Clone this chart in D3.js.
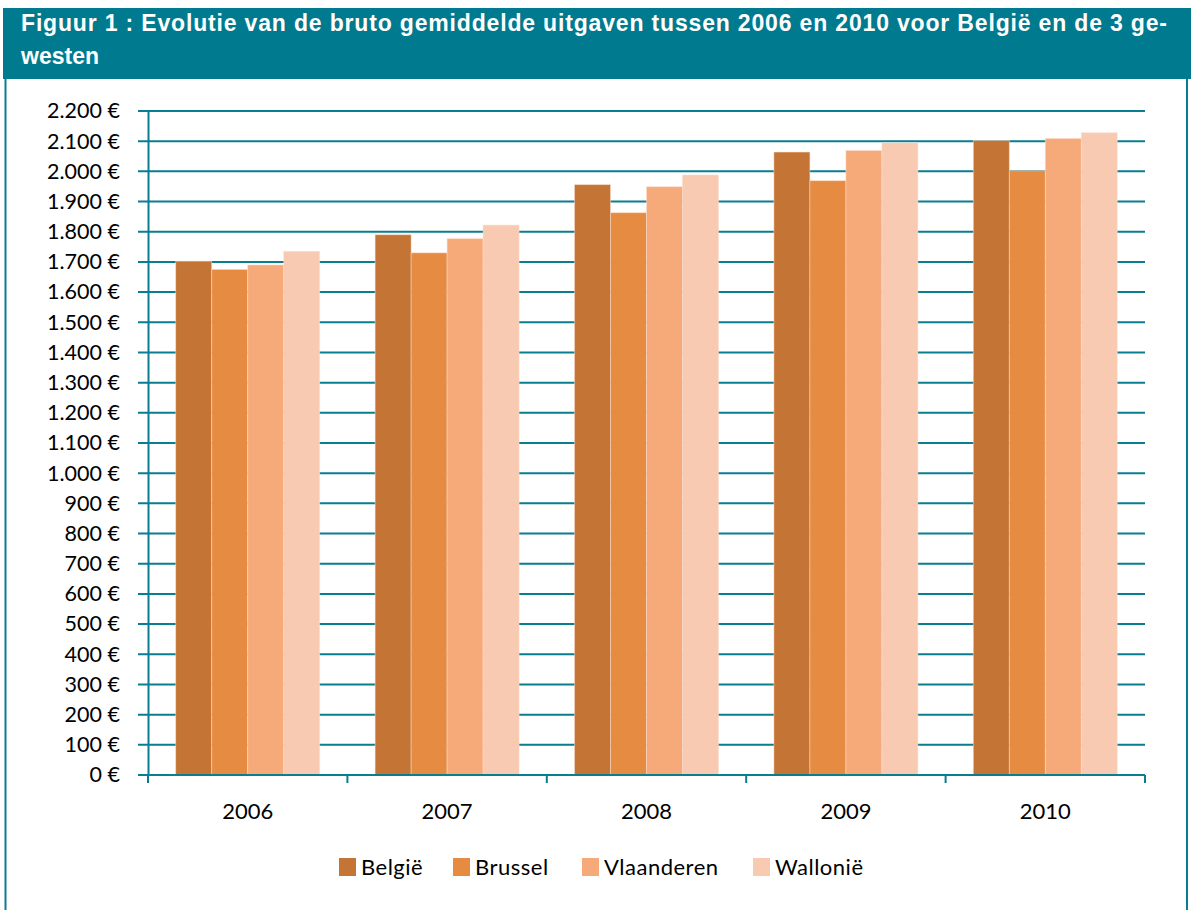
<!DOCTYPE html>
<html>
<head>
<meta charset="utf-8">
<script src="https://cdn.jsdelivr.net/npm/d3@7"></script>
<style>
  body { margin: 0; background: #fff; }
  svg { display: block; }
</style>
</head>
<body>
<script>
// categories and series
var years = ["2006", "2007", "2008", "2009", "2010"];
var regions = ["België", "Brussel", "Vlaanderen", "Wallonië"];
var belgie     = [1702, 1790, 1956, 2064, 2102];
var brussel    = [1675, 1730, 1863, 1969, 2002];
var vlaanderen = [1690, 1777, 1949, 2069, 2109];
var wallonie   = [1735, 1822, 1988, 2094, 2128];
var yTicks = d3.range(0, 2201, 100);

var series = [belgie, brussel, vlaanderen, wallonie];
var colors = ["#C47535", "#E68C42", "#F7AA79", "#F8CAB1"];
var teal = "#0A7D8F";
var labelFont = "Lato, Carlito, Calibri, sans-serif";

var svg = d3.select("body").append("svg")
  .attr("width", 1192)
  .attr("height", 910);

// title bar + frame
svg.append("rect")
   .attr("x", 3).attr("y", 8)
   .attr("width", 1188).attr("height", 71)
   .attr("fill", "#007A8E");
svg.append("path")
   .attr("d", "M5.5,79 V910 M1187,79 V910")
   .attr("stroke", teal)
   .attr("stroke-width", 2)
   .attr("fill", "none");

var title = svg.append("text")
   .attr("fill", "#fff")
   .attr("font-family", "Liberation Sans, Arial, sans-serif")
   .attr("font-weight", "bold")
   .attr("font-size", 23);
title.append("tspan").attr("x", 21).attr("y", 31)
   .attr("textLength", 1146)
   .attr("lengthAdjust", "spacing")
   .text("Figuur 1 : Evolutie van de bruto gemiddelde uitgaven tussen 2006 en 2010 voor België en de 3 ge-");
title.append("tspan").attr("x", 21).attr("y", 64).text("westen");

// scales
var plotLeft = 148, plotRight = 1145, plotTop = 111, plotBottom = 775;

var x = d3.scaleBand()
          .domain(years)
          .range([plotLeft, plotRight])
          .paddingInner(0.278)
          .paddingOuter(0.139);

var x1 = d3.scaleBand()
           .domain(d3.range(regions.length))
           .range([0, x.bandwidth()]);

var y = d3.scaleLinear()
          .domain([0, 2200])
          .range([plotBottom, plotTop]);

var fmt = d3.formatLocale({decimal: ",", thousands: ".", grouping: [3], currency: ["", " €"]}).format("$,.0f");

// gridlines
svg.append("g")
   .selectAll("line")
   .data(yTicks)
   .enter().append("line")
     .attr("x1", plotLeft - 10)
     .attr("x2", plotRight)
     .attr("y1", d => y(d))
     .attr("y2", d => y(d))
     .attr("stroke", teal)
     .attr("stroke-width", 2);

// bars
years.forEach(function(yr, i) {
  svg.append("g")
     .attr("transform", "translate(" + x(yr) + ",0)")
     .selectAll("rect")
     .data(series.map(s => s[i]))
     .enter().append("rect")
       .attr("x", (d, j) => x1(j))
       .attr("y", d => y(d))
       .attr("width", x1.bandwidth())
       .attr("height", d => plotBottom - y(d))
       .attr("fill", (d, j) => colors[j])
       .attr("stroke", "#fbe0cf")
       .attr("stroke-opacity", 0.6)
       .attr("stroke-width", 0.8);
});

// y axis
var yAxis = d3.axisLeft(y)
              .tickValues(yTicks)
              .tickSize(0)
              .tickPadding(28)
              .tickFormat(fmt);

var gy = svg.append("g")
   .attr("transform", "translate(" + plotLeft + ",0)")
   .call(yAxis);
gy.select(".domain").attr("stroke", teal).attr("stroke-width", 2);
gy.selectAll("text")
  .attr("font-family", labelFont)
  .attr("font-size", 21.5)
  .attr("fill", "#000");

// x axis line and category ticks
svg.append("line")
   .attr("x1", plotLeft).attr("x2", plotRight)
   .attr("y1", plotBottom).attr("y2", plotBottom)
   .attr("stroke", teal).attr("stroke-width", 2);

var step = x.step();
svg.append("g")
   .selectAll("line")
   .data(years.concat(["end"]))
   .enter().append("line")
     .attr("x1", (d, i) => plotLeft + i * step)
     .attr("x2", (d, i) => plotLeft + i * step)
     .attr("y1", plotBottom)
     .attr("y2", plotBottom + 8)
     .attr("stroke", teal)
     .attr("stroke-width", 2);

svg.append("g")
   .selectAll("text")
   .data(years)
   .enter().append("text")
     .attr("x", d => x(d) + x.bandwidth() / 2)
     .attr("y", 819)
     .attr("text-anchor", "middle")
     .attr("font-family", labelFont)
     .attr("font-size", 22)
     .attr("fill", "#000")
     .text(d => d);

// legend
var legendX = [339, 453, 582, 753];
var legend = svg.append("g")
   .selectAll("g")
   .data(regions)
   .enter().append("g")
     .attr("transform", (d, i) => "translate(" + legendX[i] + ",858)");
legend.append("rect")
   .attr("width", 17).attr("height", 18)
   .attr("fill", (d, i) => colors[i]);
legend.append("text")
   .attr("x", 22).attr("y", 17)
   .attr("font-family", labelFont)
   .attr("font-size", 22)
   .attr("letter-spacing", 0.5)
   .attr("fill", "#000")
   .text(d => d);
</script>
</body>
</html>
